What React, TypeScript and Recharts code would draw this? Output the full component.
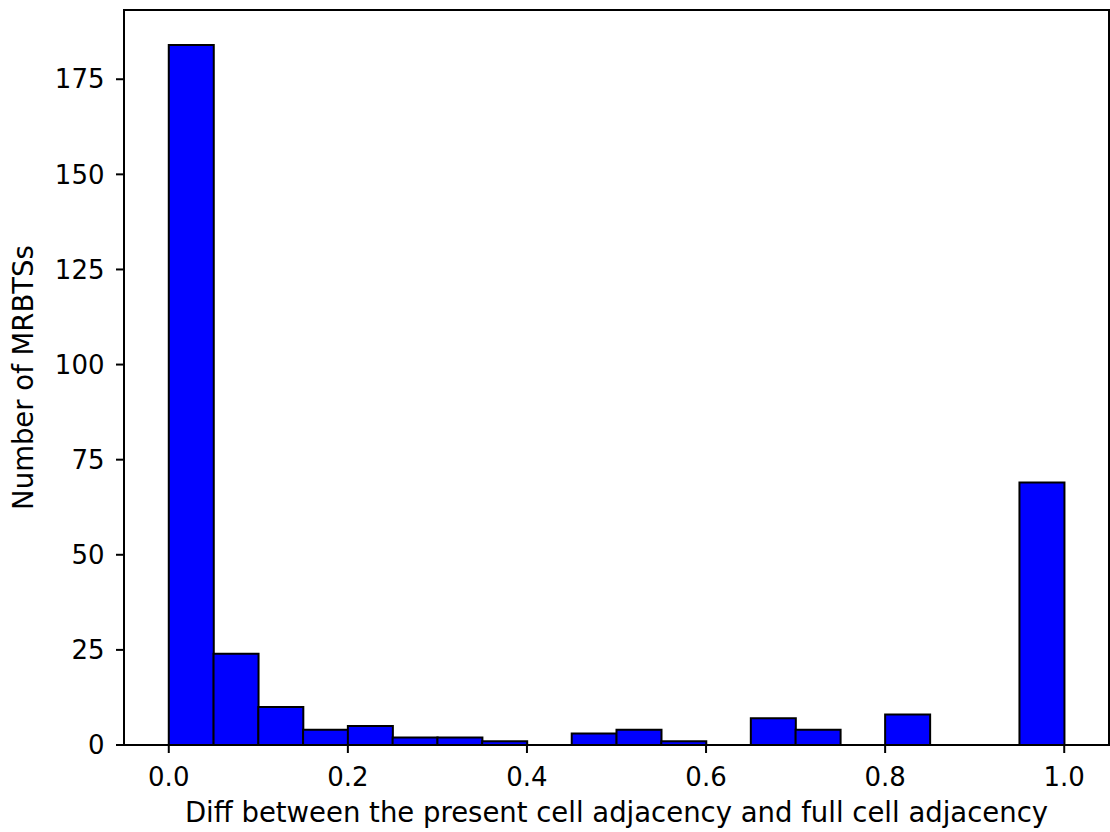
import { BarChart, Bar, XAxis, YAxis, ReferenceArea, Label } from "recharts";

// histogram: 20 bins of width 0.05 between 0 and 1
const binStarts = [
  0.0, 0.05, 0.1, 0.15, 0.2, 0.25, 0.3, 0.35, 0.4, 0.45,
  0.5, 0.55, 0.6, 0.65, 0.7, 0.75, 0.8, 0.85, 0.9, 0.95,
];
const binWidth = 0.05;
const counts = [184, 24, 10, 4, 5, 2, 2, 1, 0, 3, 4, 1, 0, 7, 4, 0, 8, 0, 0, 69];

const xTicks = [0, 0.2, 0.4, 0.6, 0.8, 1.0];
const yTicks = [0, 25, 50, 75, 100, 125, 150, 175];

const xLabel = "Diff between the present cell adjacency and full cell adjacency";
const yLabel = "Number of MRBTSs";

const data = binStarts.map((s, i) => ({ center: s + binWidth / 2, count: counts[i] }));

const FONT = "DejaVu Sans";
const tickStyle = { fill: "#000", fontSize: 26, fontFamily: FONT };

const YLabel = ({ viewBox }: any) => {
  const x = 33;
  const y = viewBox.y + viewBox.height / 2;
  return (
    <text
      x={x}
      y={y}
      transform={`rotate(-90 ${x} ${y})`}
      textAnchor="middle"
      fill="#000"
      fontSize={27.5}
      fontFamily={FONT}
    >
      {yLabel}
    </text>
  );
};

export default function App() {
  return (
    <>
      <style>{`body{margin:0}`}</style>
      <BarChart
        width={1110}
        height={832}
        data={data}
        margin={{ top: 10, right: 1, left: 0, bottom: 0 }}
        barCategoryGap={0}
        barGap={0}
      >
        <XAxis
          dataKey="center"
          type="number"
          domain={[-0.05, 1.05]}
          allowDataOverflow
          ticks={xTicks}
          tickFormatter={(v: number) => v.toFixed(1)}
          height={87}
          tick={tickStyle}
          tickSize={8}
          tickMargin={14.5}
          axisLine={{ stroke: "#000", strokeWidth: 2 }}
          tickLine={{ stroke: "#000", strokeWidth: 2 }}
        >
          <Label
            value={xLabel}
            position="insideBottom"
            offset={10.5}
            fill="#000"
            fontSize={27.5}
            fontFamily={FONT}
          />
        </XAxis>
        <YAxis
          domain={[0, 193.2]}
          allowDataOverflow
          ticks={yTicks}
          width={124}
          tick={tickStyle}
          tickSize={8}
          tickMargin={11.5}
          axisLine={{ stroke: "#000", strokeWidth: 2 }}
          tickLine={{ stroke: "#000", strokeWidth: 2 }}
          label={<YLabel />}
        />
        <Bar
          dataKey="count"
          fill="#0000ff"
          stroke="#000"
          strokeWidth={2}
          isAnimationActive={false}
        />
        <ReferenceArea
          x1={-0.05}
          x2={1.05}
          y1={0}
          y2={193.2}
          fill="none"
          fillOpacity={0}
          stroke="#000"
          strokeWidth={2}
          ifOverflow="visible"
        />
      </BarChart>
    </>
  );
}
